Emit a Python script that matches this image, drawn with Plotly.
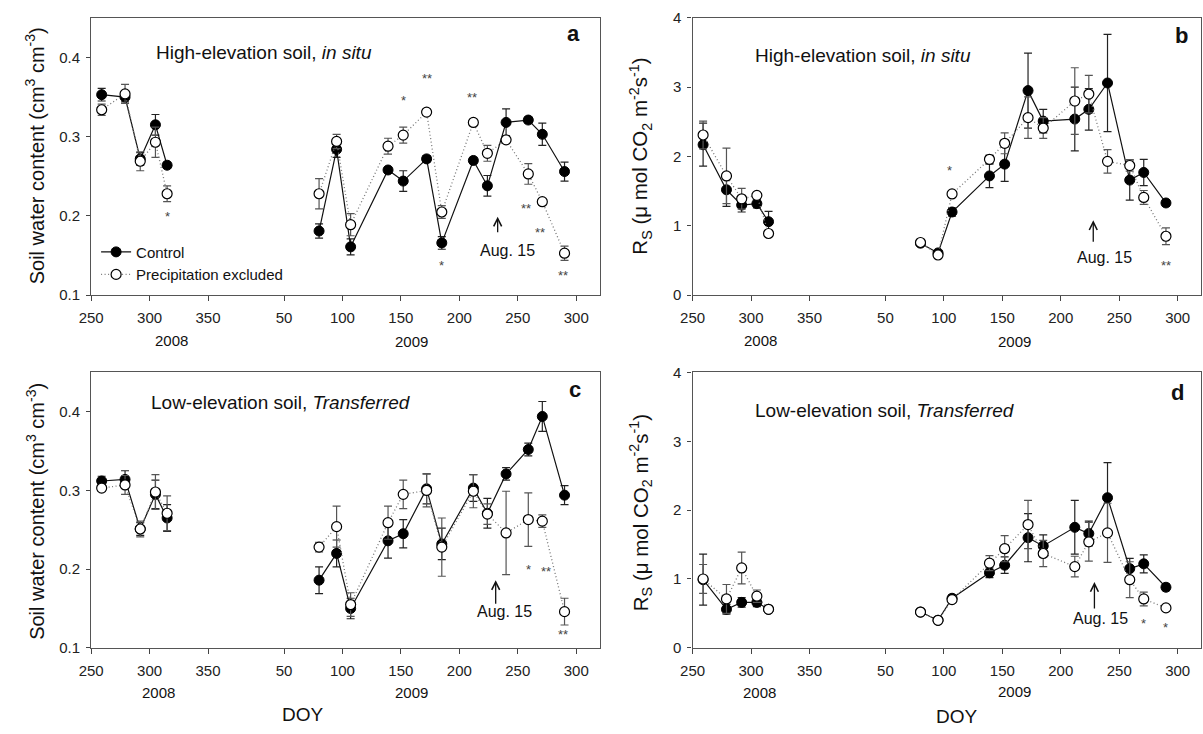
import plotly.graph_objects as go

# Sampling dates (day of year)
doy_2008 = [259, 279, 292, 305, 315]
doy_2009 = [80, 95, 107, 139, 152, 172, 185, 212, 224, 240, 259, 271, 290]

# (a) Soil water content, high-elevation soil in situ
swc_hi_ctrl_2008 = [0.353, 0.350, 0.272, 0.315, 0.264]
swc_hi_ctrl_2008_se = [0.008, 0.006, 0.008, 0.013, 0.004]
swc_hi_excl_2008 = [0.334, 0.354, 0.269, 0.293, 0.228]
swc_hi_excl_2008_se = [0.007, 0.012, 0.012, 0.019, 0.010]
swc_hi_ctrl_2009 = [0.181, 0.284, 0.161, 0.258, 0.244, 0.272, 0.166, 0.270, 0.238, 0.318, 0.321, 0.303, 0.256]
swc_hi_ctrl_2009_se = [0.009, 0.010, 0.010, 0.004, 0.013, 0.004, 0.008, 0.004, 0.013, 0.017, 0.004, 0.014, 0.012]
swc_hi_excl_2009 = [0.228, 0.294, 0.189, 0.288, 0.302, 0.331, 0.205, 0.318, 0.279, 0.296, 0.253, 0.218, 0.153]
swc_hi_excl_2009_se = [0.019, 0.009, 0.014, 0.010, 0.010, 0.004, 0.008, 0.004, 0.010, 0.004, 0.013, 0.004, 0.009]

# (b) Soil respiration, high-elevation soil in situ
rs_hi_ctrl_2008 = [2.17, 1.52, 1.30, 1.32, 1.06]
rs_hi_ctrl_2008_se = [0.31, 0.24, 0.10, 0.06, 0.15]
rs_hi_excl_2008 = [2.31, 1.72, 1.39, 1.44, 0.89]
rs_hi_excl_2008_se = [0.20, 0.40, 0.15, 0.03, 0.03]
rs_hi_ctrl_2009 = [0.75, 0.61, 1.20, 1.72, 1.89, 2.95, 2.51, 2.54, 2.68, 3.06, 1.66, 1.77, 1.33]
rs_hi_ctrl_2009_se = [0.03, 0.03, 0.06, 0.17, 0.25, 0.54, 0.17, 0.46, 0.30, 0.70, 0.29, 0.19, 0.05]
rs_hi_excl_2009 = [0.76, 0.58, 1.46, 1.96, 2.19, 2.56, 2.41, 2.80, 2.90, 1.93, 1.87, 1.41, 0.85]
rs_hi_excl_2009_se = [0.03, 0.03, 0.04, 0.06, 0.15, 0.30, 0.15, 0.48, 0.27, 0.17, 0.08, 0.10, 0.12]

# (c) Soil water content, low-elevation soil transferred
swc_lo_ctrl_2008 = [0.312, 0.314, 0.251, 0.295, 0.265]
swc_lo_ctrl_2008_se = [0.006, 0.011, 0.008, 0.018, 0.017]
swc_lo_excl_2008 = [0.303, 0.307, 0.251, 0.298, 0.271]
swc_lo_excl_2008_se = [0.004, 0.012, 0.010, 0.022, 0.022]
swc_lo_ctrl_2009 = [0.186, 0.220, 0.150, 0.236, 0.245, 0.302, 0.232, 0.303, 0.271, 0.321, 0.352, 0.394, 0.294]
swc_lo_ctrl_2009_se = [0.017, 0.017, 0.013, 0.022, 0.018, 0.019, 0.020, 0.017, 0.019, 0.008, 0.008, 0.019, 0.012]
swc_lo_excl_2009 = [0.228, 0.254, 0.155, 0.259, 0.295, 0.300, 0.228, 0.299, 0.270, 0.246, 0.263, 0.261, 0.146]
swc_lo_excl_2009_se = [0.006, 0.026, 0.015, 0.021, 0.018, 0.021, 0.037, 0.021, 0.013, 0.053, 0.034, 0.008, 0.017]

# (d) Soil respiration, low-elevation soil transferred
rs_lo_ctrl_2008 = [0.99, 0.56, 0.66, 0.66, 0.56]
rs_lo_ctrl_2008_se = [0.37, 0.07, 0.07, 0.06, 0.03]
rs_lo_excl_2008 = [1.00, 0.71, 1.16, 0.75, 0.56]
rs_lo_excl_2008_se = [0.21, 0.21, 0.23, 0.09, 0.03]
rs_lo_ctrl_2009 = [0.52, 0.40, 0.72, 1.09, 1.20, 1.60, 1.48, 1.75, 1.66, 2.18, 1.15, 1.22, 0.88]
rs_lo_ctrl_2009_se = [0.02, 0.02, 0.05, 0.07, 0.12, 0.35, 0.16, 0.39, 0.18, 0.51, 0.15, 0.13, 0.05]
rs_lo_excl_2009 = [0.52, 0.40, 0.70, 1.23, 1.44, 1.79, 1.37, 1.18, 1.54, 1.67, 0.99, 0.71, 0.58]
rs_lo_excl_2009_se = [0.02, 0.02, 0.03, 0.11, 0.19, 0.35, 0.19, 0.15, 0.28, 0.43, 0.26, 0.10, 0.04]

# Significance marks: (year, doy, value position, label)
stars_a = [(2008, 315, 0.199, "*"), (2009, 152, 0.346, "*"), (2009, 172, 0.374, "**"),
           (2009, 185, 0.138, "*"), (2009, 211, 0.350, "**"), (2009, 257, 0.209, "**"),
           (2009, 269, 0.179, "**"), (2009, 289, 0.125, "**")]
stars_b = [(2009, 105, 1.80, "*"), (2009, 290, 0.43, "**")]
stars_c = [(2009, 259, 0.200, "*"), (2009, 274, 0.197, "**"), (2009, 289, 0.117, "**")]
stars_d = [(2009, 271, 0.35, "*"), (2009, 290, 0.29, "*")]

# Tick labels for the two-year DOY axis
x_tickvals_doy = [(2008, 250), (2008, 300), (2008, 350), (2009, 50), (2009, 100),
                  (2009, 150), (2009, 200), (2009, 250), (2009, 300)]
x_ticktext = ["250", "300", "350", "50", "100", "150", "200", "250", "300"]

YEAR_OFFSET = {2008: 0, 2009: 365}
W, H = 1203, 734
FONT = "Liberation Sans, Arial, Helvetica, sans-serif"


def xpos(year, doy):
    return doy + YEAR_OFFSET[year]


def join_years(v08, v09, gap=None):
    return list(v08) + [gap] + list(v09)


x_all = join_years([xpos(2008, d) for d in doy_2008], [xpos(2009, d) for d in doy_2009])

panels = [
    dict(ax="", ctrl=(swc_hi_ctrl_2008, swc_hi_ctrl_2009), ctrl_se=(swc_hi_ctrl_2008_se, swc_hi_ctrl_2009_se),
         excl=(swc_hi_excl_2008, swc_hi_excl_2009), excl_se=(swc_hi_excl_2008_se, swc_hi_excl_2009_se),
         stars=stars_a, legend=True),
    dict(ax="2", ctrl=(rs_hi_ctrl_2008, rs_hi_ctrl_2009), ctrl_se=(rs_hi_ctrl_2008_se, rs_hi_ctrl_2009_se),
         excl=(rs_hi_excl_2008, rs_hi_excl_2009), excl_se=(rs_hi_excl_2008_se, rs_hi_excl_2009_se),
         stars=stars_b, legend=False),
    dict(ax="3", ctrl=(swc_lo_ctrl_2008, swc_lo_ctrl_2009), ctrl_se=(swc_lo_ctrl_2008_se, swc_lo_ctrl_2009_se),
         excl=(swc_lo_excl_2008, swc_lo_excl_2009), excl_se=(swc_lo_excl_2008_se, swc_lo_excl_2009_se),
         stars=stars_c, legend=False),
    dict(ax="4", ctrl=(rs_lo_ctrl_2008, rs_lo_ctrl_2009), ctrl_se=(rs_lo_ctrl_2008_se, rs_lo_ctrl_2009_se),
         excl=(rs_lo_excl_2008, rs_lo_excl_2009), excl_se=(rs_lo_excl_2008_se, rs_lo_excl_2009_se),
         stars=stars_d, legend=False),
]

fig = go.Figure()
annotations = []

for p in panels:
    xa, ya = "x" + p["ax"], "y" + p["ax"]
    fig.add_trace(go.Scatter(
        x=x_all, y=join_years(*p["ctrl"]), xaxis=xa, yaxis=ya,
        mode="lines+markers", name="Control", legendgroup="ctrl", showlegend=p["legend"],
        line=dict(color="#111111", width=1.2),
        marker=dict(symbol="circle", size=10, color="#000000", line=dict(color="#000000", width=1)),
        error_y=dict(type="data", array=join_years(*p["ctrl_se"], gap=0), color="#222222",
                     thickness=1.2, width=4),
    ))
    fig.add_trace(go.Scatter(
        x=x_all, y=join_years(*p["excl"]), xaxis=xa, yaxis=ya,
        mode="lines+markers", name="Precipitation excluded", legendgroup="excl", showlegend=p["legend"],
        line=dict(color="#777777", width=1.3, dash="1px,2.5px"),
        marker=dict(symbol="circle", size=10, color="#ffffff", line=dict(color="#000000", width=1.2)),
        error_y=dict(type="data", array=join_years(*p["excl_se"], gap=0), color="#555555",
                     thickness=1.2, width=4),
    ))
    for year, doy, yv, lab in p["stars"]:
        annotations.append(dict(x=xpos(year, doy), y=yv, xref=xa, yref=ya, text=lab, showarrow=False,
                                font=dict(size=13, color="#444444", family=FONT)))

# Panel geometry in pixels: (left, right, top, bottom)
boxes = {"": (79, 593, 9, 293), "2": (687, 1201, 9, 293),
         "3": (79, 593, 372, 654), "4": (687, 1201, 372, 654)}
yranges = {"": [0.1, 0.45], "2": [0, 4], "3": [0.1, 0.45], "4": [0, 4]}
yticks = {"": ([0.1, 0.2, 0.3, 0.4], ["0.1", "0.2", "0.3", "0.4"]),
          "2": ([0, 1, 2, 3, 4], ["0", "1", "2", "3", "4"]),
          "3": ([0.1, 0.2, 0.3, 0.4], ["0.1", "0.2", "0.3", "0.4"]),
          "4": ([0, 1, 2, 3, 4], ["0", "1", "2", "3", "4"])}

axis_common = dict(showline=True, linecolor="#555555", linewidth=1.3, mirror=True, showgrid=False,
                   zeroline=False, ticks="outside", tickcolor="#444444", tickwidth=1.2,
                   tickfont=dict(size=15, color="#222222", family=FONT), fixedrange=True)

layout_axes = {}
for key, (l, r, t, b) in boxes.items():
    layout_axes["xaxis" + key] = dict(
        domain=[l / W, r / W], anchor="y" + key, range=[250, 685],
        tickvals=[xpos(y, d) for y, d in x_tickvals_doy], ticktext=x_ticktext,
        ticklen=5, ticklabelstandoff=4, **axis_common)
    layout_axes["yaxis" + key] = dict(
        domain=[1 - b / H, 1 - t / H], anchor="x" + key, range=yranges[key],
        tickvals=yticks[key][0], ticktext=yticks[key][1],
        ticklen=4, ticklabelstandoff=3, **axis_common)


def paper(px, py):
    return px / W, 1 - py / H


def text_at(px, py, text, size, angle=0, anchor="center", bold=False):
    x, y = paper(px, py)
    annotations.append(dict(x=x, y=y, xref="paper", yref="paper", text=f"<b>{text}</b>" if bold else text,
                            showarrow=False, textangle=angle, xanchor=anchor, yanchor="middle",
                            font=dict(size=size, color="#111111", family=FONT)))


swc_title = "Soil water content (cm<sup>3</sup> cm<sup>-3</sup>)"
rs_title = "R<sub>S</sub> (\u03bc mol CO<sub>2</sub> m<sup>-2</sup>s<sup>-1</sup>)"
text_at(22, 150, swc_title, 20, angle=-90)
text_at(22, 514, swc_title, 20, angle=-90)
text_at(634, 151, rs_title, 20.5, angle=-90)
text_at(634, 516, rs_title, 20.5, angle=-90)

# Panel headings
text_at(143, 45, "High-elevation soil, <i>in situ</i>", 19, anchor="left")
text_at(748, 48, "High-elevation soil, <i>in situ</i>", 19, anchor="left")
text_at(137, 403, "Low-elevation soil, <i>Transferred</i>", 19, anchor="left")
text_at(748, 411, "Low-elevation soil, <i>Transferred</i>", 19, anchor="left")

# Panel letters
text_at(567, 25, "a", 22, bold=True)
text_at(1181, 27, "b", 22, bold=True)
text_at(568, 390, "c", 22, bold=True)
text_at(1177, 393, "d", 22, bold=True)

# Year labels and axis titles
text_at(160, 339, "2008", 15)
text_at(403, 340, "2009", 15)
text_at(756, 339, "2008", 15)
text_at(1012, 340, "2009", 15)
text_at(147, 700, "2008", 15)
text_at(403, 700, "2009", 15)
text_at(755, 700, "2008", 15)
text_at(1012, 699, "2009", 15)
text_at(293, 722, "DOY", 19)
text_at(954, 724, "DOY", 19)

# Aug. 15 markers: (axis, arrow x DOY 2009, arrow tip value, arrow length px, label x DOY 2009, label value)
aug15 = [("", 232.8, 0.199, 17, 241, 0.157),
         ("2", 227.8, 1.08, 23, 237, 0.537),
         ("3", 231.1, 0.186, 25, 238.5, 0.146),
         ("4", 228.8, 0.955, 28, 233.7, 0.426)]
for key, ax_doy, tip, length, lab_doy, lab_y in aug15:
    annotations.append(dict(x=xpos(2009, ax_doy), y=tip, xref="x" + key, yref="y" + key, text="",
                            showarrow=True, ax=0, ay=length, arrowhead=5, arrowsize=1.2,
                            arrowwidth=1.3, arrowcolor="#111111", standoff=0, startstandoff=0))
    annotations.append(dict(x=xpos(2009, lab_doy), y=lab_y, xref="x" + key, yref="y" + key,
                            text="Aug. 15", showarrow=False,
                            font=dict(size=16, color="#111111", family=FONT)))

fig.update_layout(
    width=W, height=H, margin=dict(l=0, r=0, t=0, b=0),
    paper_bgcolor="white", plot_bgcolor="white",
    font=dict(family=FONT, color="#111111"),
    showlegend=True,
    legend=dict(x=84 / W, y=1 - 232 / H, xanchor="left", yanchor="top", bgcolor="rgba(0,0,0,0)",
                font=dict(size=15, family=FONT, color="#111111"), tracegroupgap=0, itemwidth=30,
                borderwidth=0),
    annotations=annotations,
    **layout_axes,
)

fig.write_html("out.html")
